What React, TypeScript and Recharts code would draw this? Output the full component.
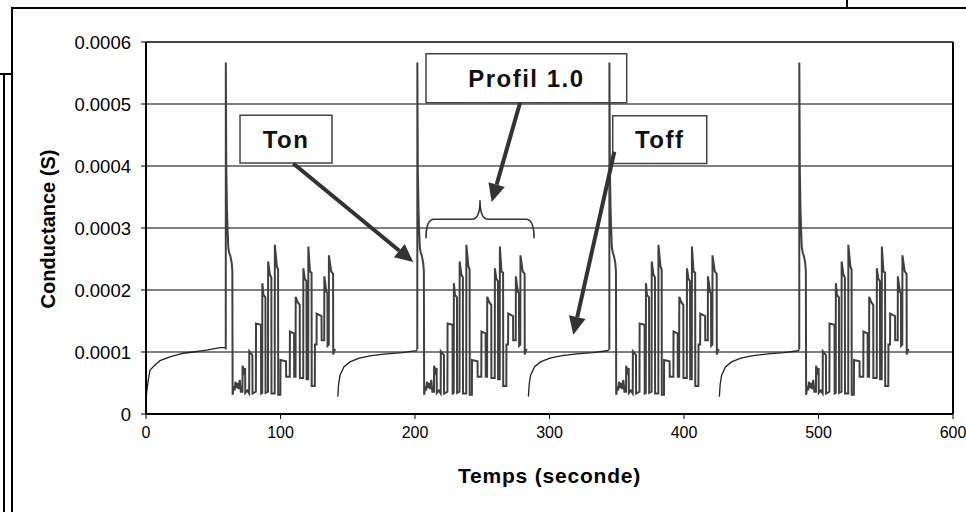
import {
  LineChart,
  Line,
  XAxis,
  YAxis,
  CartesianGrid,
  ReferenceLine,
  ReferenceArea,
  Label,
} from "recharts";

// values are in 1e-4 S, times in seconds
const SCALE = 1e-4;

const X_TICKS = [0, 100, 200, 300, 400, 500, 600];
const Y_TICKS = [0, 0.0001, 0.0002, 0.0003, 0.0004, 0.0005, 0.0006];

// first relaxation, absolute time
const FIRST_TOFF: [number, number][] = [
  [0, 0.03], [0.3, 0.31], [1.7, 0.55], [3.0, 0.71], [6.7, 0.79], [10.4, 0.86],
  [17.8, 0.92], [27.7, 0.98], [35.2, 1.0], [45.1, 1.03], [55.0, 1.07], [59.3, 1.07],
];

// start of each Ton step (the big spike)
const SPIKE_TIMES = [59.3, 201.7, 344.5, 485.7];
// start of each following Toff relaxation
const TOFF_STARTS = [142.6, 284.3, 426.3];

// Ton: spike, decay and pulse profile, time relative to the spike
const TON_SHAPE: [number, number][] = [
  [0, 1.04], [0.05, 5.67], [0.4, 3.96], [0.9, 3.3], [1.4, 2.95], [1.9, 2.68],
  [2.6, 2.6], [3.4, 2.55], [4.4, 2.44], [4.9, 2.3], [5.1, 0.31],
  [6.0, 0.45], [6.6, 0.38], [7.2, 0.52], [8.0, 0.42], [8.8, 0.5], [9.6, 0.4],
  [10.4, 0.55], [11.2, 0.36],
  [12.4, 0.36], [12.5, 0.78], [13.6, 0.68], [14.4, 0.74], [14.5, 0.34],
  [16.0, 0.38], [17.4, 0.33],
  [17.5, 1.01], [19.8, 0.95], [19.9, 0.33],
  [22.4, 0.36], [22.5, 1.46], [26.2, 1.44], [26.3, 0.33],
  [27.1, 0.34], [27.2, 2.11], [28.0, 1.92], [29.5, 1.88], [29.6, 0.34],
  [31.4, 0.36], [31.5, 2.46], [32.8, 2.25], [33.9, 2.2], [34.0, 0.33],
  [36.4, 0.33], [36.5, 2.73], [38.0, 2.38], [38.9, 2.33], [39.0, 0.31],
  [40.6, 0.31], [40.7, 0.87], [44.8, 0.85], [44.9, 0.6], [47.6, 0.6],
  [47.7, 1.33], [50.8, 1.3], [50.9, 0.6],
  [51.9, 0.6], [52.0, 1.89], [53.6, 1.8], [55.0, 1.76], [55.1, 0.58],
  [57.6, 0.58], [57.7, 2.35], [58.8, 2.18], [60.0, 2.14], [60.1, 0.56],
  [61.3, 0.56], [61.4, 2.7], [62.6, 2.3], [63.8, 2.28], [63.9, 0.45],
  [66.2, 0.45], [66.3, 1.12], [67.5, 1.12], [67.6, 1.62], [71.2, 1.58], [71.3, 1.19],
  [73.2, 1.19], [73.3, 2.22], [74.8, 1.97], [75.6, 1.95], [75.7, 1.1],
  [76.6, 1.12], [76.7, 2.56], [78.4, 2.3], [79.8, 2.26], [79.9, 0.96],
  [80.6, 1.02], [81.4, 1.05],
];

// Toff relaxation, time relative to its start
const TOFF_SHAPE: [number, number][] = [
  [0, 0.28], [0.6, 0.48], [1.6, 0.62], [4.5, 0.76], [9, 0.84], [16, 0.9],
  [25, 0.94], [36, 0.97], [48, 0.99], [58.5, 1.02],
];

type Row = { t: number; off?: number | null; on?: number | null };
const rows: Row[] = [];
FIRST_TOFF.forEach(([t, v]) => rows.push({ t, off: v * SCALE, on: null }));
SPIKE_TIMES.forEach((s, i) => {
  TON_SHAPE.forEach(([dt, v]) => rows.push({ t: s + dt, on: v * SCALE, off: null }));
  if (i < TOFF_STARTS.length) {
    const t0 = TOFF_STARTS[i];
    TOFF_SHAPE.forEach(([dt, v]) => rows.push({ t: t0 + dt, off: v * SCALE, on: null }));
    // close the toff curve onto the next spike foot
    rows.push({ t: SPIKE_TIMES[i + 1], off: TON_SHAPE[0][1] * SCALE, on: null });
  }
});

const FONT = "'Liberation Sans', Arial, sans-serif";
const INK = "#333";

const Arrow = (p: any) => {
  const { x1, y1, x2, y2 } = p;
  const a = Math.atan2(y2 - y1, x2 - x1);
  const len = 18;
  const w = 8.5;
  const bx = x2 - len * Math.cos(a);
  const by = y2 - len * Math.sin(a);
  const px = -Math.sin(a) * w;
  const py = Math.cos(a) * w;
  return (
    <g>
      <line x1={x1} y1={y1} x2={bx} y2={by} stroke={INK} strokeWidth={4} />
      <polygon points={`${x2},${y2} ${bx + px},${by + py} ${bx - px},${by - py}`} fill={INK} />
    </g>
  );
};

const Brace = (p: any) => {
  const { x1, y1, x2 } = p;
  const y = y1;
  const m = (x1 + x2) / 2;
  const h = 19;
  const d = `M${x1},${y + h} Q${x1},${y} ${x1 + 8},${y} L${m - 8},${y} Q${m},${y} ${m},${y - h} Q${m},${y} ${m + 8},${y} L${x2 - 8},${y} Q${x2},${y} ${x2},${y + h}`;
  return <path d={d} fill="none" stroke={INK} strokeWidth={1.6} />;
};

const boxLabel = (text: string) => (p: any) => {
  const vb = p.viewBox;
  return (
    <text
      x={vb.x + vb.width / 2}
      y={vb.y + vb.height / 2}
      textAnchor="middle"
      dominantBaseline="central"
      fontFamily={FONT}
      fontSize={24}
      fontWeight={700}
      letterSpacing={1.5}
      fill="#111"
    >
      {text}
    </text>
  );
};

const fmtY = (v: number) => (v === 0 ? "0" : v.toFixed(4));

const line = (style: any) => <div style={{ position: "absolute", background: "#000", ...style }} />;

export default function App() {
  return (
    <div style={{ position: "absolute", left: 0, top: 0, width: 966, height: 512, background: "#fff", overflow: "hidden" }}>
      {line({ left: 12, top: 7, width: 954, height: 2 })}
      {line({ left: 11, top: 7, width: 2, height: 505 })}
      {line({ left: 3, top: 73, width: 1.6, height: 439 })}
      {line({ left: 0, top: 73, width: 12, height: 1.5 })}
      {line({ left: 846, top: 0, width: 1.5, height: 8 })}
      <div style={{ position: "absolute", left: 0, top: 0 }}>
        <LineChart
          width={966}
          height={512}
          data={rows}
          margin={{ top: 42, right: 13, left: 46, bottom: 38 }}
        >
          <CartesianGrid vertical={false} stroke="#000" strokeWidth={1} />
          <XAxis
            dataKey="t"
            type="number"
            domain={[0, 600]}
            ticks={X_TICKS}
            height={60}
            tickSize={5}
            tickMargin={8}
            tick={{ fontSize: 16, fill: "#000", fontFamily: FONT }}
            axisLine={{ stroke: "#000", strokeWidth: 2 }}
            tickLine={{ stroke: "#000" }}
          >
            <Label
              content={(p: any) => (
                <text
                  x={p.viewBox.x + p.viewBox.width / 2}
                  y={483}
                  textAnchor="middle"
                  fontFamily={FONT}
                  fontSize={21}
                  fontWeight={700}
                  letterSpacing={0.8}
                  fill="#000"
                >
                  Temps (seconde)
                </text>
              )}
            />
          </XAxis>
          <YAxis
            type="number"
            domain={[0, 0.0006]}
            ticks={Y_TICKS}
            width={100}
            tickSize={5}
            tickMargin={10}
            tickFormatter={fmtY}
            tick={{ fontSize: 18.5, fill: "#000", fontFamily: FONT }}
            axisLine={{ stroke: "#000", strokeWidth: 2 }}
            tickLine={{ stroke: "#000" }}
          >
            <Label
              content={() => (
                <text
                  x={48}
                  y={229}
                  transform="rotate(-90 48 229)"
                  textAnchor="middle"
                  dominantBaseline="central"
                  fontFamily={FONT}
                  fontSize={20}
                  fontWeight={700}
                  fill="#000"
                >
                  Conductance (S)
                </text>
              )}
            />
          </YAxis>
          <ReferenceLine y={0.0006} stroke="#444" strokeWidth={2} />
          <ReferenceLine x={600} stroke="#000" strokeWidth={2} />
          <Line
            type="linear"
            dataKey="off"
            stroke="#222"
            strokeWidth={1.3}
            dot={false}
            activeDot={false}
            connectNulls={false}
            isAnimationActive={false}
          />
          <Line
            type="linear"
            dataKey="on"
            stroke="#404040"
            strokeWidth={2}
            dot={false}
            activeDot={false}
            connectNulls={false}
            isAnimationActive={false}
          />
          <ReferenceArea x1={69.9} x2={138.3} y1={0.000405} y2={0.000482} fill="none" stroke="#444" strokeWidth={1.5} label={boxLabel("Ton")} />
          <ReferenceArea x1={208.2} x2={357.4} y1={0.000502} y2={0.000581} fill="none" stroke="#444" strokeWidth={1.5} label={boxLabel("Profil 1.0")} />
          <ReferenceArea x1={347.0} x2={416.9} y1={0.000404} y2={0.000481} fill="none" stroke="#444" strokeWidth={1.5} label={boxLabel("Toff")} />
          <ReferenceLine segment={[{ x: 109.5, y: 0.000404 }, { x: 198.7, y: 0.000245 }]} shape={Arrow} />
          <ReferenceLine segment={[{ x: 278.1, y: 0.000502 }, { x: 257.0, y: 0.000342 }]} shape={Arrow} />
          <ReferenceLine segment={[{ x: 348.2, y: 0.000423 }, { x: 317.7, y: 0.000128 }]} shape={Arrow} />
          <ReferenceLine segment={[{ x: 208.2, y: 0.000314 }, { x: 288.5, y: 0.000314 }]} shape={Brace} />
        </LineChart>
      </div>
    </div>
  );
}
